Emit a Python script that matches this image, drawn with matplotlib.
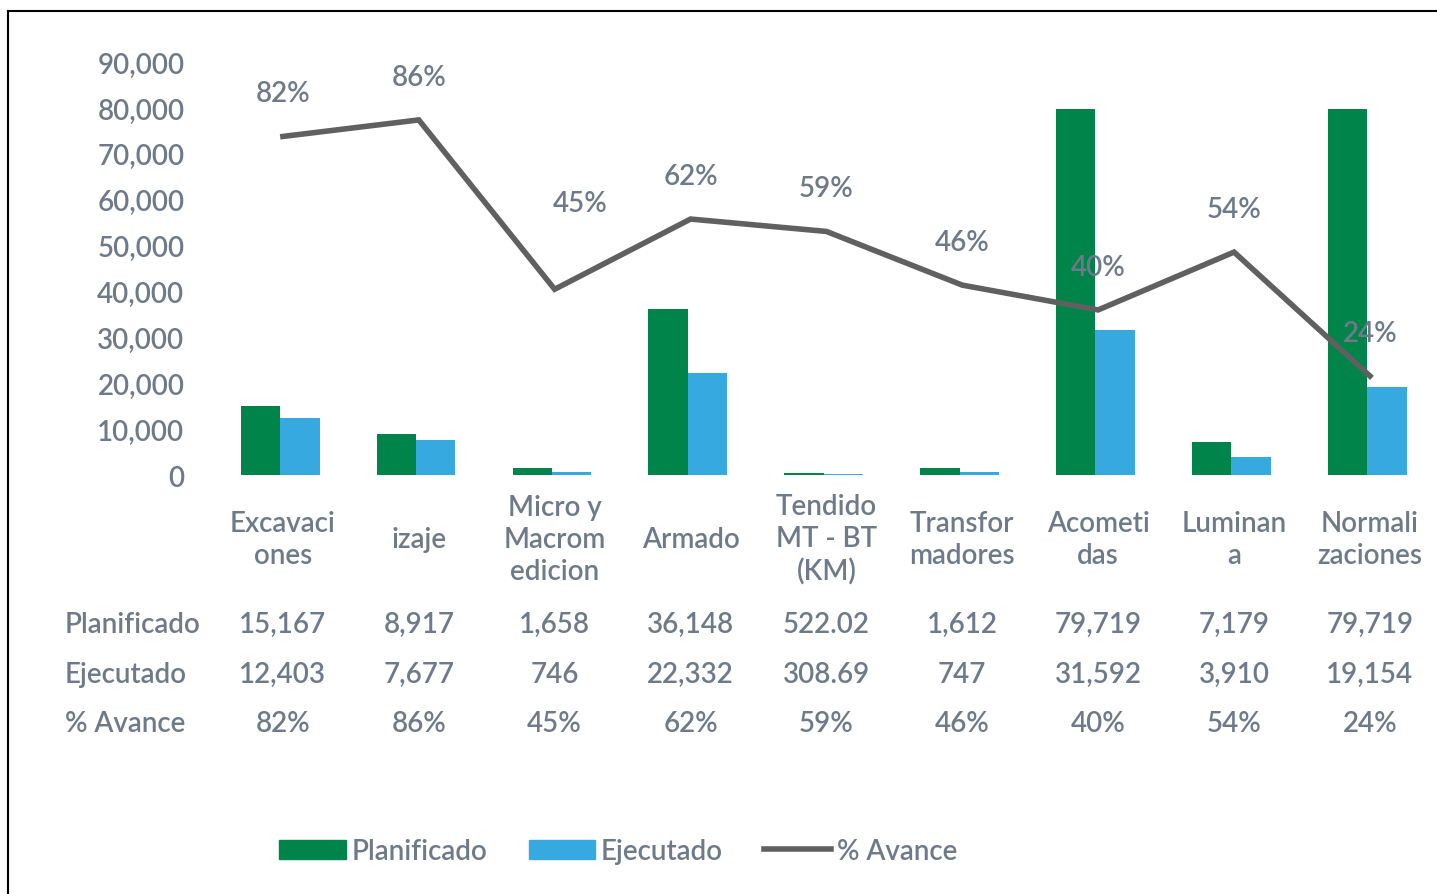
import matplotlib.pyplot as plt
import matplotlib.transforms as mtransforms
from matplotlib.patches import Patch
from matplotlib.lines import Line2D
import numpy as np

plt.rcParams['font.family'] = ['Lato', 'DejaVu Sans']
plt.rcParams['font.weight'] = 'semibold'

categorias = ['Excavaci\nones', 'izaje', 'Micro y\nMacrom\nedicion', 'Armado',
              'Tendido\nMT - BT\n(KM)', 'Transfor\nmadores', 'Acometi\ndas',
              'Luminan\na', 'Normali\nzaciones']
planificado = [15167, 8917, 1658, 36148, 522.02, 1612, 79719, 7179, 79719]
ejecutado = [12403, 7677, 746, 22332, 308.69, 747, 31592, 3910, 19154]
avance = [0.82, 0.86, 0.45, 0.62, 0.59, 0.46, 0.40, 0.54, 0.24]
txt_planificado = ['15,167', '8,917', '1,658', '36,148', '522.02', '1,612', '79,719', '7,179', '79,719']
txt_ejecutado = ['12,403', '7,677', '746', '22,332', '308.69', '747', '31,592', '3,910', '19,154']

verde = '#00844A'
azul = '#36A9E1'
gris_linea = '#606060'
gris_texto = '#6E7A8A'

fig = plt.figure(figsize=(14.37, 8.95), dpi=100)
ax = fig.add_axes([0.1496, 0.468, 0.851, 0.4615])

x = np.arange(len(categorias))
w = 0.29
ax.bar(x - w / 2 - 0.02, planificado, w, color=verde, zorder=2)
ax.bar(x + w / 2 - 0.02, ejecutado, w, color=azul, zorder=2)

ax.set_xlim(-0.5, 8.5)
ax.set_ylim(0, 90000)
ax.set_yticks(np.arange(0, 90001, 10000))
ax.set_yticklabels([f'{v:,}' for v in range(0, 90001, 10000)])
ax.tick_params(axis='y', length=0, pad=22, labelsize=20, labelcolor=gris_texto)
ax.set_xticks([])
for s in ax.spines.values():
    s.set_visible(False)

# linea de % avance en eje secundario
ax2 = ax.twinx()
ax2.set_ylim(0, 1)
ax2.axis('off')
ax2.plot(x, avance, color=gris_linea, lw=4, solid_joinstyle='miter', zorder=3)
for i, v in enumerate(avance):
    dx, dy = (0.19, 0.21) if i == 2 else (0, 0.105)
    ax2.text(x[i] + dx, v + dy, f'{v:.0%}', ha='center', va='center',
             fontsize=20, color=gris_texto, zorder=4)

# tabla de datos
trans = mtransforms.blended_transform_factory(ax.transData, fig.transFigure)
for i, c in enumerate(categorias):
    ax.text(x[i], 1 - 540 / 895, c, transform=trans, ha='center', va='center',
            fontsize=20, color=gris_texto, linespacing=1.3)
    ax.text(x[i], 1 - 625 / 895, txt_planificado[i], transform=trans,
            ha='center', va='center', fontsize=20, color=gris_texto)
    ax.text(x[i], 1 - 675 / 895, txt_ejecutado[i], transform=trans,
            ha='center', va='center', fontsize=20, color=gris_texto)
    ax.text(x[i], 1 - 724 / 895, f'{avance[i]:.0%}', transform=trans,
            ha='center', va='center', fontsize=20, color=gris_texto)

for y, t in [(625, 'Planificado'), (675, 'Ejecutado'), (724, '% Avance')]:
    fig.text(65 / 1437, 1 - y / 895, t, ha='left', va='center',
             fontsize=20, color=gris_texto)

handles = [Patch(color=verde, label='Planificado'),
           Patch(color=azul, label='Ejecutado'),
           Line2D([], [], color=gris_linea, lw=4, label='% Avance')]
fig.legend(handles=handles, loc='center', bbox_to_anchor=(618 / 1437, 1 - 852 / 895),
           ncol=3, frameon=False, fontsize=20, labelcolor=gris_texto,
           handlelength=2.4, handletextpad=0.2, columnspacing=1.5)

# marco
fig.add_artist(Line2D([8 / 1437, 8 / 1437], [0, 1 - 12 / 895], color='black', lw=1.5,
                      transform=fig.transFigure))
fig.add_artist(Line2D([8 / 1437, 1], [1 - 12 / 895, 1 - 12 / 895], color='black', lw=1.5,
                      transform=fig.transFigure))

fig.savefig('out.png', dpi=100, facecolor='white')
